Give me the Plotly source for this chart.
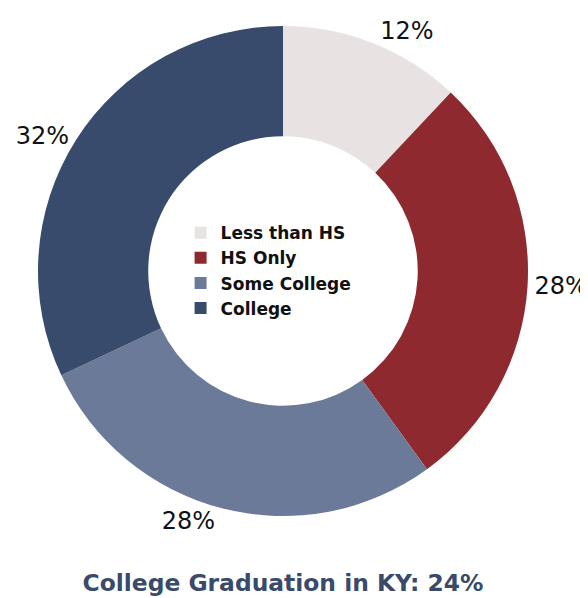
import plotly.graph_objects as go

categories = ["Less than HS", "HS Only", "Some College", "College"]
values = [12, 28, 28, 32]
colors = ["#e8e2e2", "#8e2a2f", "#6b7a98", "#384b6c"]
title_text = "College Graduation in KY: 24%"

FONT = "'DejaVu Sans', Inter, sans-serif"

fig = go.Figure(go.Pie(
    labels=categories,
    values=values,
    hole=0.55,
    sort=False,
    direction="clockwise",
    rotation=0,
    marker=dict(colors=colors, line=dict(width=0)),
    textinfo="percent",
    textposition="outside",
    outsidetextfont=dict(family=FONT, size=24, color="#111111"),
    showlegend=True,
    hoverinfo="skip",
))

# page body has an 8px margin; figure is sized to fit the 588x598 window
fig.update_layout(
    width=580, height=590,
    margin=dict(l=30, r=60, t=18, b=82, autoexpand=False),
    paper_bgcolor="white",
    plot_bgcolor="white",
    legend=dict(
        x=0.291, y=0.614, xanchor="left", yanchor="top",
        font=dict(family=FONT, size=17, color="#111111", weight="bold"),
        bgcolor="rgba(0,0,0,0)",
        tracegroupgap=0,
    ),
    title=dict(
        text=title_text,
        x=275 / 580, xref="container", xanchor="center",
        y=1 - 575 / 590, yref="container", yanchor="middle",
        font=dict(family=FONT, size=23.4, color="#3a4a6b", weight="bold"),
    ),
)

fig.write_html("out.html")
